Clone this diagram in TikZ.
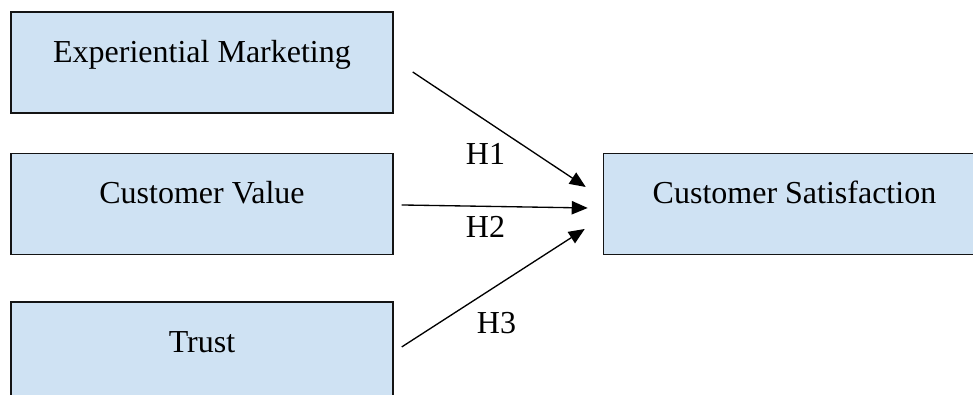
\documentclass[tikz,border=0pt]{standalone}
\usepackage{fontspec}
\setmainfont{Liberation Serif}
\usetikzlibrary{arrows.meta,positioning}
\definecolor{boxfill}{RGB}{207,226,243}
\definecolor{boxline}{RGB}{20,20,20}

\begin{document}
\begin{tikzpicture}[
    x=0.75pt, y=-0.75pt,
    node distance=29.25pt,
    construct/.style={rectangle, draw=boxline, fill=boxfill, line width=1.1pt, minimum width=286.5pt, minimum height=75.75pt, text height=12pt, text depth=12pt, font=\fontsize{24}{28}\selectfont},
    hyp/.style={inner sep=0pt, font=\fontsize{24}{28}\selectfont},
    edge/.style={-{Triangle[length=12pt,width=10pt]}, line width=1pt}
]
    \clip (0,0) rectangle (973,394);

    \node[construct] (exper) at (202,62.5) {Experiential Marketing};
    \node[construct, below=of exper] (value) {Customer Value};
    \node[construct, below=34.5pt of value] (trust) {Trust};
    \node[construct, right=156.75pt of value] (satis) {Customer Satisfaction};

    \draw[edge] ([shift={(19,9.5)}]exper.east) -- ([shift={(-17,-17)}]satis.west);
    \draw[edge] ([shift={(8,1)}]value.east) -- ([shift={(-15,4)}]satis.west);
    \draw[edge] ([shift={(8,-5.5)}]trust.east) -- ([shift={(-18,25)}]satis.west);

    \node[hyp] (h1) at (485.5,153.5) {H1};
    \node[hyp] (h2) at (485.5,226.5) {H2};
    \node[hyp] (h3) at (496.5,323.5) {H3};
\end{tikzpicture}
\end{document}
